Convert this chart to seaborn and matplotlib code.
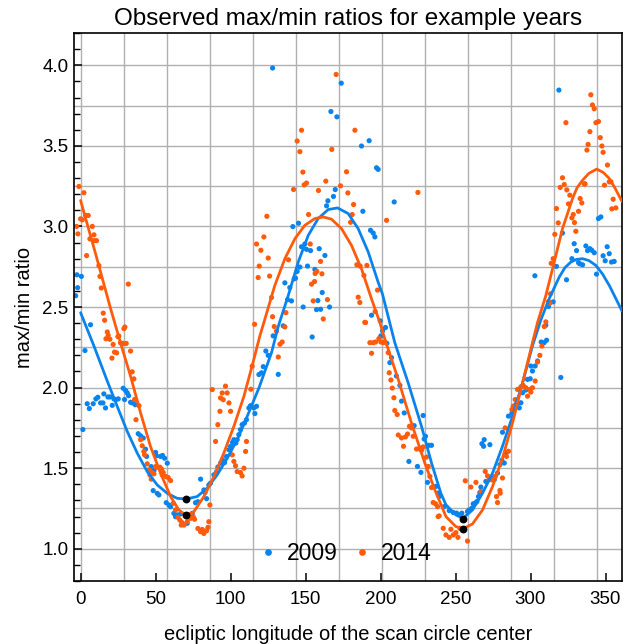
import numpy as np
import pandas as pd
import matplotlib
matplotlib.use('Agg')
import matplotlib.pyplot as plt
from matplotlib.ticker import MultipleLocator
import seaborn as sns

years = ['2009', '2014']
colors = ['#0a84ec', '#ff5b0c']

# observed ratios, (ecliptic longitude, max/min ratio)
pts_2009 = [
    (-3.3, 2.57), (-2.5, 2.70), (-2.0, 2.62), (0.5, 2.69), (1.5, 1.74), (2.9, 2.23), (6.6, 2.39),
    (4.4, 1.90), (5.8, 1.87), (8.4, 1.90), (10.2, 1.93), (11.5, 1.94), (13.3, 1.905), (14.9, 1.905),
    (16.6, 1.874), (15.5, 1.961), (18.2, 1.942), (19.5, 1.942), (21.1, 1.89), (22.2, 1.93), (23.5, 1.926),
    (25.1, 1.93), (28.4, 1.996), (30.0, 1.982), (31.1, 1.967), (32.0, 1.95), (29.3, 1.926), (33.3, 1.909),
    (34.6, 1.905), (36.4, 1.894), (38.4, 1.714), (40.0, 1.701), (41.8, 1.687), (43.3, 1.618), (44.0, 1.573),
    (47.1, 1.51), (48.9, 1.486), (48.4, 1.361), (51.1, 1.344), (52.2, 1.334), (50.0, 1.598), (50.6, 1.577),
    (53.3, 1.573), (54.6, 1.579), (56.0, 1.562), (57.8, 1.531), (57.1, 1.286), (58.9, 1.272), (60.0, 1.261),
    (62.2, 1.22), (63.3, 1.199), (64.4, 1.21), (66.6, 1.216), (71.1, 1.158), (74.4, 1.22), (76.6, 1.286),
    (78.2, 1.292), (80.0, 1.432), (82.2, 1.365), (82.9, 1.349), (84.0, 1.311), (85.5, 1.396), (86.6, 1.407),
    (88.9, 1.459), (90.6, 1.477), (91.5, 1.507), (93.3, 1.531), (94.6, 1.552), (96.0, 1.535), (97.3, 1.573),
    (98.9, 1.614), (100.0, 1.635), (101.3, 1.66), (102.2, 1.677), (103.5, 1.656), (104.4, 1.677),
    (105.5, 1.708), (106.6, 1.739), (107.7, 1.77), (109.3, 1.78), (110.6, 1.801), (112.2, 1.874),
    (113.3, 1.888), (115.5, 1.874), (117.3, 1.884), (118.9, 2.081), (116.2, 1.839), (120.6, 2.092),
    (121.8, 2.13), (123.5, 2.227), (125.1, 2.2), (128.4, 2.321), (131.8, 2.082), (135.1, 2.383),
    (128.0, 3.983), (173.8, 3.889), (166.9, 3.713), (170.9, 3.68), (192.4, 3.532), (187.3, 3.499),
    (197.3, 3.364), (198.4, 3.354), (209.1, 3.152), (169.8, 3.229), (168.6, 3.186), (164.9, 3.159),
    (164.0, 3.128), (188.2, 3.094), (145.3, 3.02), (141.5, 2.999), (193.3, 2.976), (195.1, 2.959),
    (196.2, 2.935), (147.3, 2.874), (149.5, 2.891), (150.6, 2.858), (153.3, 2.85), (159.1, 2.862),
    (162.9, 2.82), (151.3, 2.754), (156.2, 2.733), (146.2, 2.748), (144.4, 2.721), (143.3, 2.679),
    (142.4, 2.675), (136.2, 2.65), (139.5, 2.621), (138.0, 2.546), (140.6, 2.538), (148.4, 2.5),
    (157.3, 2.484), (160.0, 2.486), (166.0, 2.5), (161.1, 2.59), (158.2, 2.54), (194.0, 2.449),
    (199.8, 2.414), (154.4, 2.314), (201.3, 2.352), (203.3, 2.373), (200.2, 2.321), (204.2, 2.275),
    (206.2, 2.155), (207.3, 2.186), (210.6, 2.072), (212.9, 2.014), (214.0, 1.916), (215.8, 1.843),
    (222.4, 1.764), (228.4, 1.827), (230.0, 1.698), (229.1, 1.681), (232.2, 1.642), (234.0, 1.642),
    (218.9, 1.542), (224.6, 1.511), (226.9, 1.474), (227.3, 1.625), (231.3, 1.412), (238.4, 1.345),
    (236.9, 1.387), (239.1, 1.324), (242.5, 1.262), (245.8, 1.237), (248.5, 1.225), (250.7, 1.221),
    (252.5, 1.21), (254.2, 1.221), (258.0, 1.231), (259.1, 1.241), (260.9, 1.252), (261.8, 1.279),
    (263.1, 1.283), (264.2, 1.293), (265.3, 1.324), (266.2, 1.349), (266.9, 1.383), (270.2, 1.418),
    (267.6, 1.652), (269.1, 1.677), (268.7, 1.636), (272.9, 1.646), (275.1, 1.445), (275.8, 1.428),
    (278.0, 1.47), (279.6, 1.522), (280.9, 1.549), (282.5, 1.532), (281.3, 1.723), (283.6, 1.594),
    (285.3, 1.823), (287.6, 1.843), (289.1, 1.874), (290.2, 1.895), (291.3, 1.901), (293.6, 1.906),
    (292.5, 1.874), (294.7, 1.968), (296.9, 1.985), (298.0, 2.051), (299.8, 2.055), (301.3, 2.103),
    (300.2, 2.134), (303.1, 2.134), (304.7, 2.165), (307.1, 2.283), (309.1, 2.279), (310.7, 2.294),
    (310.2, 2.387), (312.0, 2.503), (315.1, 2.532), (320.2, 2.063), (318.9, 3.846), (302.9, 2.694),
    (321.3, 2.959), (317.3, 2.752), (324.0, 2.669), (327.6, 2.8), (329.1, 2.893), (330.7, 2.85),
    (332.0, 2.775), (332.9, 2.768), (334.7, 2.762), (336.9, 2.879), (338.0, 2.85), (339.6, 2.862),
    (340.9, 2.852), (342.5, 2.837), (344.0, 2.704), (345.3, 3.049), (346.9, 3.059), (348.4, 2.818),
    (349.8, 2.787), (351.1, 2.874), (352.5, 2.831), (354.0, 2.779), (355.8, 2.783),
]

pts_2014 = [
    (-1.1, 3.248), (2.2, 3.209), (0.0, 3.047), (1.1, 3.041), (3.3, 3.068), (5.1, 3.068), (-2.7, 3.0),
    (-1.8, 2.954), (7.8, 3.0), (6.2, 2.923), (8.9, 2.948), (9.3, 2.912), (10.6, 2.912), (4.0, 2.819),
    (12.2, 2.757), (12.9, 2.69), (13.8, 2.618), (15.1, 2.462), (31.8, 2.642),
    (16.0, 2.418), (17.8, 2.345), (18.4, 2.324), (16.9, 2.303), (19.5, 2.3), (21.7, 2.268), (22.6, 2.22),
    (24.0, 2.216), (20.9, 2.183), (24.9, 2.316), (25.5, 2.32), (26.6, 2.278), (28.2, 2.274), (28.9, 2.366),
    (29.5, 2.376), (30.4, 2.274), (33.3, 2.227), (34.4, 2.098), (35.5, 2.054), (36.0, 1.926), (38.9, 1.888),
    (36.9, 1.801), (40.0, 1.677), (41.1, 1.639), (42.2, 1.604), (42.6, 1.583), (44.4, 1.527), (45.5, 1.49),
    (46.6, 1.479), (47.7, 1.469), (48.9, 1.465), (46.2, 1.459), (47.1, 1.432), (50.0, 1.51), (51.1, 1.506),
    (52.9, 1.506), (54.0, 1.494), (55.1, 1.473), (56.9, 1.448), (58.4, 1.442), (60.0, 1.423), (54.4, 1.459),
    (61.8, 1.282), (63.3, 1.241), (64.9, 1.195), (66.2, 1.178), (67.7, 1.162), (68.9, 1.147), (67.1, 1.147),
    (71.1, 1.168), (72.2, 1.21), (73.3, 1.189), (75.1, 1.199), (76.0, 1.183), (78.2, 1.126), (80.0, 1.106),
    (81.1, 1.12), (82.2, 1.095), (84.0, 1.112), (84.9, 1.133), (85.5, 1.168), (86.2, 1.272), (87.8, 1.988),
    (90.0, 1.666), (91.5, 1.77), (93.3, 1.936), (94.4, 1.967), (96.6, 2.009), (97.7, 1.967), (92.9, 1.853),
    (95.1, 1.925), (98.9, 1.905), (100.0, 1.853), (101.1, 1.583), (102.2, 1.542), (103.3, 1.515),
    (104.4, 1.479), (106.6, 1.473), (107.7, 1.452), (108.9, 1.5), (110.0, 1.604), (110.6, 1.666),
    (113.5, 1.99), (114.4, 2.133), (116.0, 2.393),
    (170.4, 3.943), (147.3, 3.597), (144.4, 3.53), (146.2, 3.464), (182.9, 3.597), (167.5, 3.478),
    (148.2, 3.337), (177.3, 3.339), (163.5, 3.281), (149.1, 3.258), (150.6, 3.269), (142.0, 3.229),
    (158.6, 3.223), (173.3, 3.252), (178.2, 3.208), (182.0, 3.136), (224.9, 3.211), (204.0, 3.038),
    (152.0, 3.074), (181.1, 3.074), (180.0, 3.026), (124.2, 3.063), (122.2, 2.935), (117.3, 2.891),
    (120.2, 2.852), (125.1, 2.804), (119.1, 2.754), (118.4, 2.683), (126.0, 2.692), (138.6, 2.793),
    (153.1, 2.891), (160.0, 2.783), (160.9, 2.706), (157.5, 2.721), (156.4, 2.708), (156.0, 2.658),
    (154.0, 2.642), (155.1, 2.538), (164.6, 2.546), (161.8, 2.426), (184.2, 2.762), (186.4, 2.754),
    (190.9, 2.758), (188.9, 2.696), (198.0, 2.605), (185.1, 2.561), (186.2, 2.528), (127.3, 2.559),
    (128.0, 2.44), (136.9, 2.465), (196.4, 2.472), (189.5, 2.405),
    (129.1, 2.379), (130.6, 2.35), (136.2, 2.377), (132.9, 2.269), (134.4, 2.283), (131.8, 2.19),
    (190.0, 2.404), (192.9, 2.279), (195.1, 2.279), (196.7, 2.283), (198.9, 2.304), (194.0, 2.213),
    (200.2, 2.283), (201.8, 2.279), (202.9, 2.283), (205.1, 2.217), (205.8, 2.092), (206.9, 2.047),
    (207.8, 1.997), (208.9, 1.937), (209.5, 1.858), (211.1, 1.833), (211.8, 1.706), (214.0, 1.688),
    (215.3, 1.636), (216.6, 1.694), (218.0, 1.712), (219.3, 1.76), (220.6, 1.75), (221.8, 1.698),
    (224.0, 1.619), (226.2, 1.619), (227.3, 1.611), (228.4, 1.632), (230.6, 1.569), (231.8, 1.511),
    (232.9, 1.449), (234.0, 1.38), (235.1, 1.287), (236.7, 1.279), (238.4, 1.2),
    (238.0, 1.262), (239.1, 1.204), (241.8, 1.127), (243.6, 1.086), (245.8, 1.071), (246.9, 1.121),
    (248.5, 1.086), (250.2, 1.1), (251.6, 1.071), (252.9, 1.127), (256.5, 1.422), (260.2, 1.383),
    (263.6, 1.412), (266.9, 1.356), (269.8, 1.48), (271.3, 1.453), (272.4, 1.428), (274.2, 1.428),
    (276.5, 1.449), (277.3, 1.324), (278.0, 1.287), (279.8, 1.345), (279.6, 1.362), (281.3, 1.439),
    (284.0, 1.573), (285.3, 1.605), (283.1, 1.75), (287.6, 1.864), (288.5, 1.885), (289.8, 1.926),
    (291.3, 1.989), (293.6, 2.005), (295.1, 2.014), (296.9, 1.999), (299.6, 1.989), (301.3, 1.999),
    (298.0, 1.947), (300.2, 1.972), (303.1, 2.041), (304.7, 2.159), (306.2, 2.2), (307.6, 2.258),
    (309.1, 2.379), (310.2, 2.408), (312.9, 2.524), (258.0, 1.048),
    (340.2, 3.817), (341.3, 3.754), (342.5, 3.73), (343.6, 3.644), (345.3, 3.651), (339.6, 3.588),
    (338.4, 3.509), (337.6, 3.474), (346.5, 3.551), (347.6, 3.499), (348.4, 3.46), (351.3, 3.381),
    (323.6, 3.644), (321.3, 3.302), (322.5, 3.26), (319.8, 3.242), (324.2, 3.227), (326.2, 3.194),
    (325.3, 3.14), (317.3, 3.111), (335.8, 3.264), (336.4, 3.264), (333.1, 3.173), (334.2, 3.146),
    (332.0, 3.094), (328.5, 3.074), (327.6, 3.053), (329.3, 3.024), (330.2, 2.97), (318.5, 3.022),
    (316.2, 2.951), (349.3, 3.256), (352.5, 3.277), (353.6, 3.277), (355.1, 3.169), (356.9, 3.115),
    (354.2, 3.109), (315.1, 2.8), (313.8, 2.771), (313.3, 2.582), (312.0, 2.534),
]

# fitted curves
fit_lon_2009 = [0, 8.9, 17.8, 24.4, 31.1, 37.8, 44.4, 51.1, 57.8, 64.4, 70.4, 77.7, 84.4, 91.1, 97.8,
                104.4, 111.1, 118.9, 127.3, 131.8, 138.4, 145.1, 151.8, 158.4, 165.1, 171.3, 178.4,
                185.1, 191.8, 198.4, 201.3, 206.2, 209.5, 218.4, 227.3, 234.0, 240.2, 243.6, 250.2,
                255.0, 261.3, 268.0, 274.7, 281.3, 288.0, 294.7, 301.3, 306.9, 312.4, 319.1, 323.0,
                326.9, 330.5, 334.7, 339.0, 343.6, 348.0, 352.5, 356.5, 361.0]
fit_2009 = [2.465, 2.258, 2.04, 1.884, 1.728, 1.593, 1.479, 1.396, 1.344, 1.313, 1.309, 1.324, 1.376,
            1.459, 1.562, 1.677, 1.822, 1.998, 2.217, 2.38, 2.57, 2.779, 2.945, 3.049, 3.105, 3.115,
            3.08, 2.986, 2.841, 2.654, 2.58, 2.40, 2.279, 2.03, 1.76, 1.532, 1.345, 1.273, 1.21, 1.19,
            1.241, 1.345, 1.47, 1.636, 1.823, 2.03, 2.259, 2.42, 2.551, 2.685, 2.745,
            2.779, 2.795, 2.8, 2.788, 2.758, 2.705, 2.634, 2.56, 2.475]

fit_lon_2014 = [0, 5, 10, 15, 20, 26.6, 33.3, 40.0, 46.6, 53.3, 60.0, 65.5, 70.4, 75.5, 82.2, 88.9,
                95.5, 102.2, 108.9, 115.5, 119.5, 122.9, 129.5, 136.2, 142.9, 149.5, 156.2, 161.8,
                167.3, 174.0, 180.6, 187.3, 194.0, 199.5, 202.9, 211.8, 220.6, 229.5, 236.2, 243.6,
                250.2, 255.1, 261.3, 268.0, 274.7, 281.3, 288.0, 294.7, 301.3, 304.7, 310.2, 315.8,
                321.3, 328.0, 331.0, 334.7, 339.0, 344.2, 348.5, 352.5, 356.5, 361.0]
fit_2014 = [3.161, 2.995, 2.83, 2.66, 2.49, 2.278, 2.071, 1.843, 1.635, 1.469, 1.324, 1.241, 1.207,
            1.23, 1.324, 1.448, 1.594, 1.76, 1.946, 2.175, 2.32, 2.426, 2.634, 2.8, 2.924, 3.007,
            3.049, 3.059, 3.045, 2.986, 2.883, 2.737, 2.55, 2.405, 2.3, 2.051, 1.781, 1.532, 1.366,
            1.2, 1.138, 1.125, 1.154, 1.241, 1.387, 1.563, 1.781, 2.03, 2.279, 2.405, 2.571, 2.779,
            2.986, 3.173, 3.24, 3.287, 3.33, 3.356, 3.335, 3.298, 3.235, 3.155]

# minima of the fits
min_lon = [70.4, 70.4, 254.7, 254.9]
min_ratio = [1.309, 1.207, 1.183, 1.125]

sns.set_theme(style='white')
plt.rcParams['font.family'] = ['Liberation Sans', 'DejaVu Sans']
plt.rcParams.update({'text.color': 'black', 'axes.labelcolor': 'black',
                     'xtick.color': 'black', 'ytick.color': 'black'})

obs = pd.concat([
    pd.DataFrame(pts_2009, columns=['lon', 'ratio']).assign(year='2009'),
    pd.DataFrame(pts_2014, columns=['lon', 'ratio']).assign(year='2014'),
])
fits = pd.concat([
    pd.DataFrame({'lon': fit_lon_2009, 'ratio': fit_2009, 'year': '2009'}),
    pd.DataFrame({'lon': fit_lon_2014, 'ratio': fit_2014, 'year': '2014'}),
])
pal = dict(zip(years, colors))

fig = plt.figure(figsize=(6.23, 6.44), dpi=100)
ax = fig.add_axes([0.1188, 0.0978, 0.8796, 0.8509])

# grid (vertical lines are not on the tick positions in the original)
for gx in np.arange(13) * 28.7:
    ax.axvline(gx, color='#b0b0b0', lw=1.0, zorder=0)
for gy in np.arange(1.0, 4.01, 0.25):
    ax.axhline(gy, color='#b0b0b0', lw=1.0, zorder=0)

sns.scatterplot(data=obs, x='lon', y='ratio', hue='year', hue_order=years, palette=pal,
                s=14, linewidth=0, ax=ax, zorder=2)
sns.lineplot(data=fits, x='lon', y='ratio', hue='year', hue_order=years, palette=pal,
             lw=2, estimator=None, legend=False, ax=ax, zorder=3)
sns.scatterplot(x=min_lon, y=min_ratio, color='black', s=32, linewidth=0,
                legend=False, ax=ax, zorder=4)

sns.move_legend(ax, 'lower center', bbox_to_anchor=(0.497, 0.0), ncol=2, frameon=False,
                title=None, fontsize=16.5, markerscale=1.3, handlelength=0.6,
                handletextpad=0.5, columnspacing=0.8, borderaxespad=0.3)

ax.set_xlim(-4.4, 361)
ax.set_ylim(0.8, 4.2)
ax.xaxis.set_major_locator(MultipleLocator(50))
ax.yaxis.set_major_locator(MultipleLocator(0.5))
ax.yaxis.set_minor_locator(MultipleLocator(0.1))
ax.tick_params(axis='both', which='major', direction='in', length=5.5, width=1.1,
               labelsize=13.5, bottom=True, left=True)
ax.tick_params(axis='x', pad=7.5)
ax.tick_params(axis='y', which='major', pad=4)
ax.tick_params(axis='y', which='minor', direction='in', length=4, width=1.0, left=True)
for sp in ax.spines.values():
    sp.set_color('black')
    sp.set_linewidth(1.2)

ax.set_xlabel('ecliptic longitude of the scan circle center', fontsize=14.5, labelpad=12)
ax.set_ylabel('max/min ratio', fontsize=14.5, labelpad=6)
ax.set_title('Observed max/min ratios for example years', fontsize=17.5, pad=6)

fig.savefig('out.png', dpi=100)
